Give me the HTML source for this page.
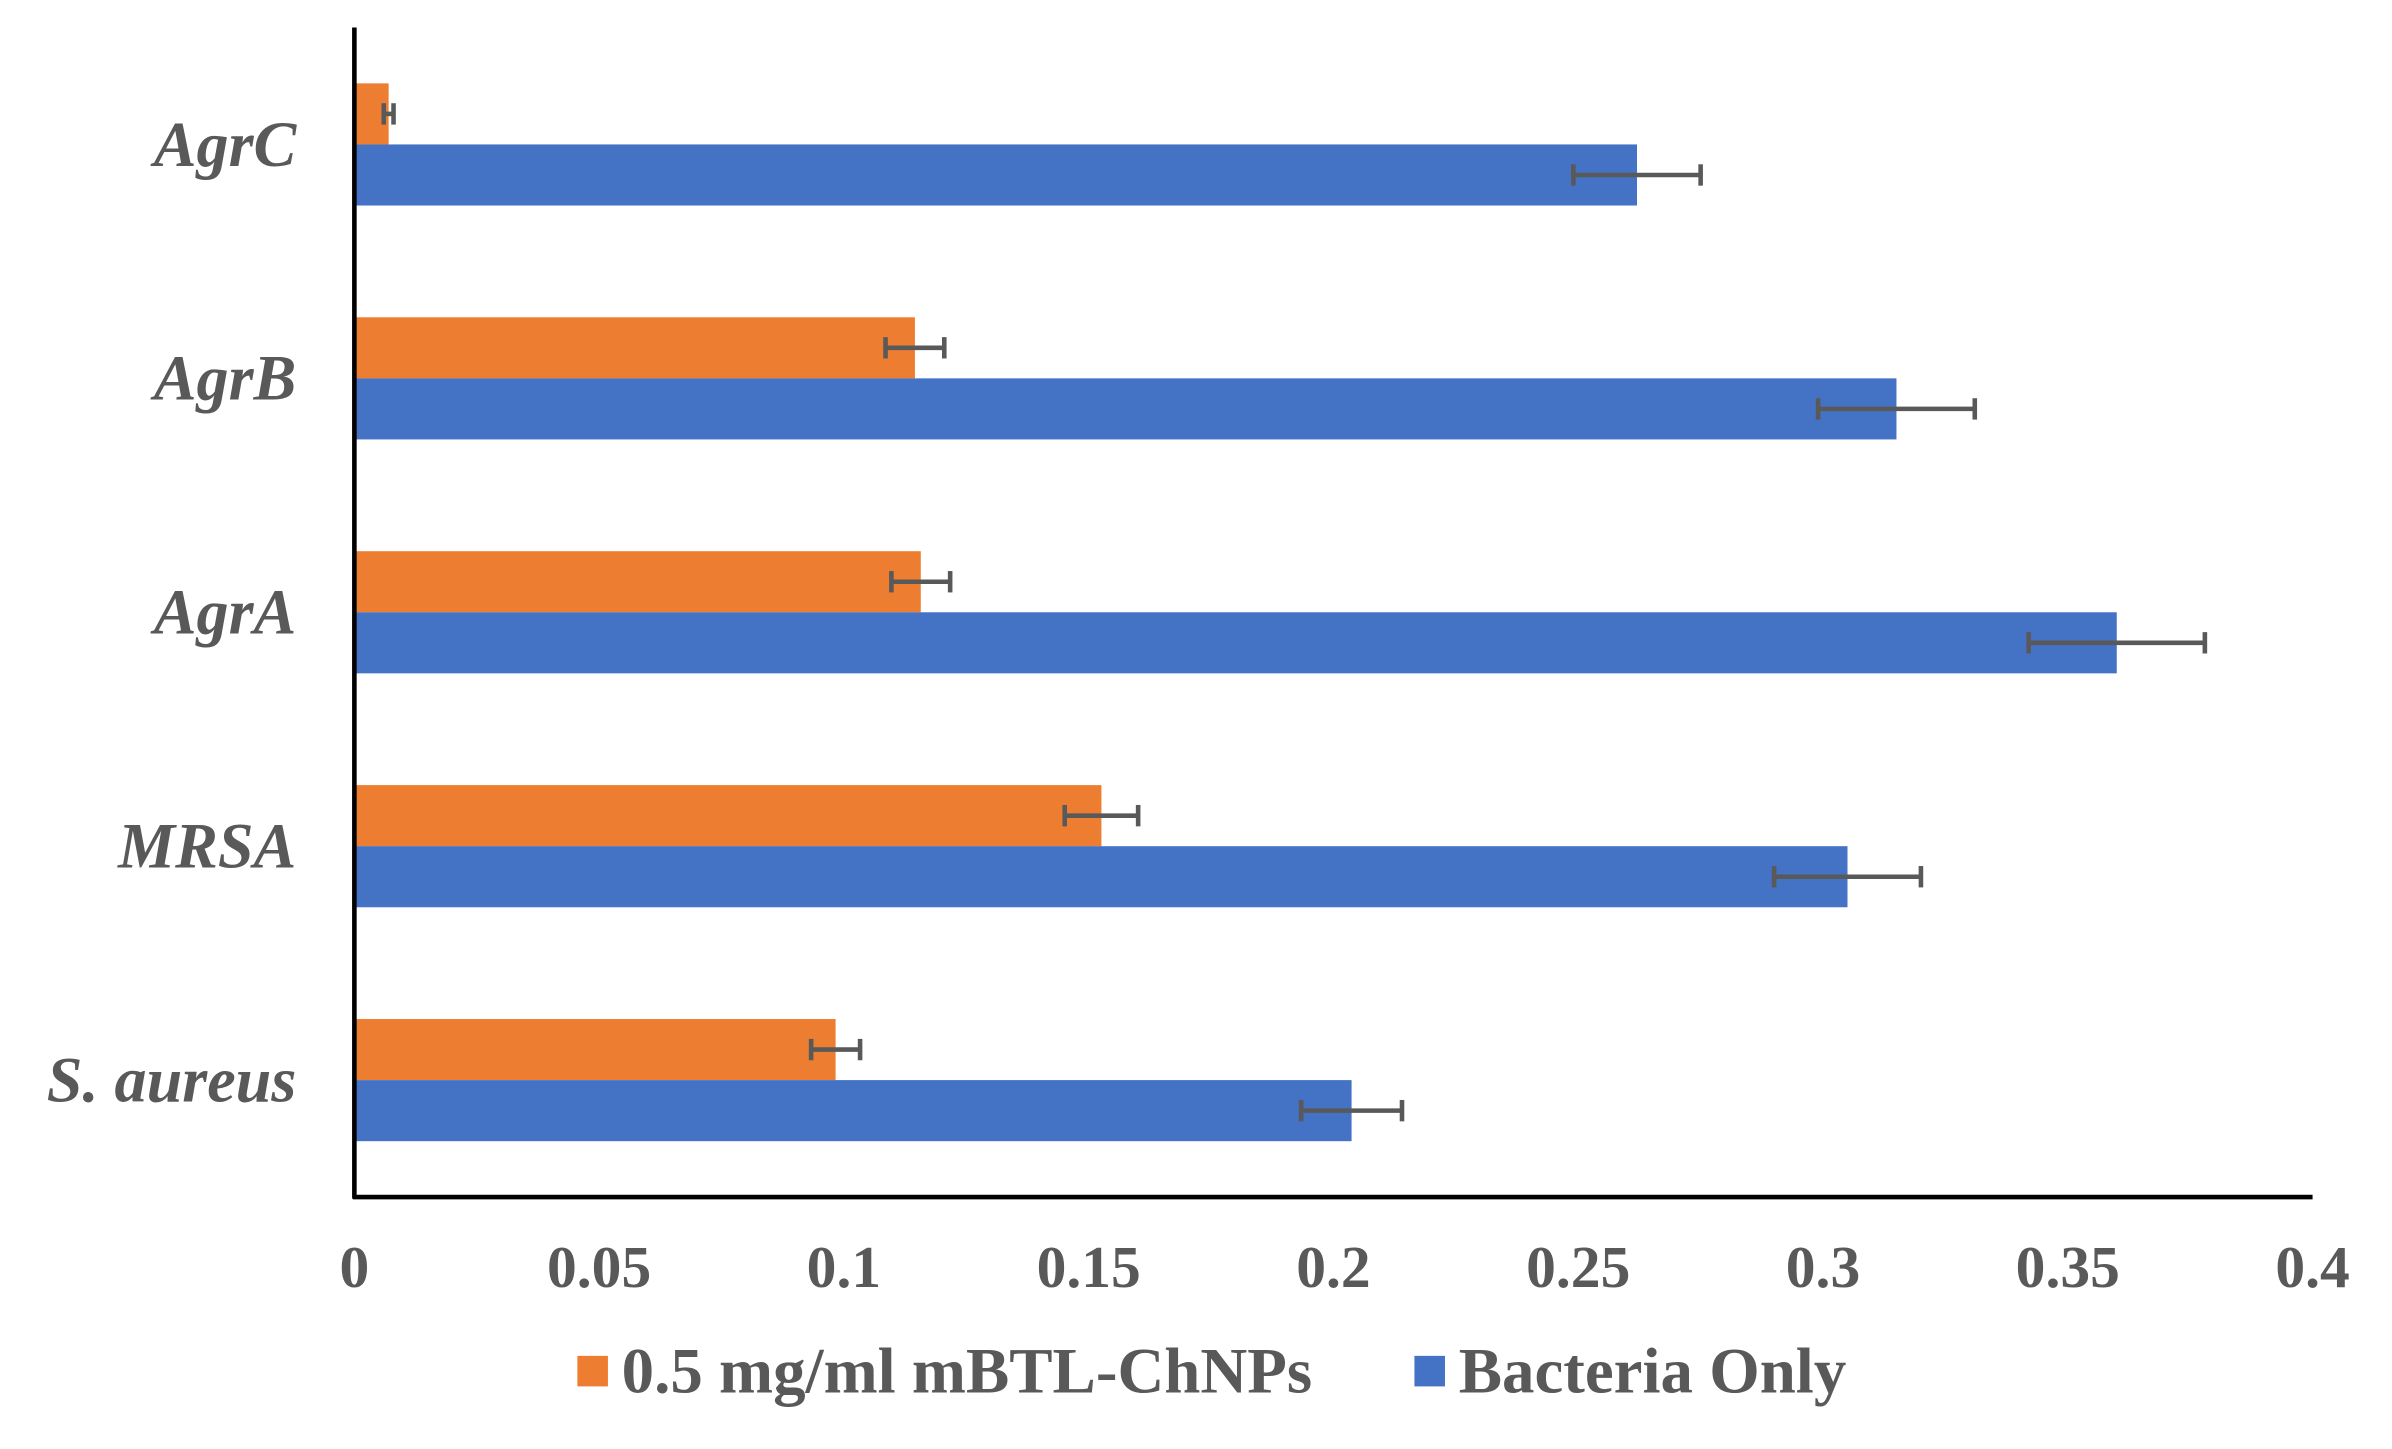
<!DOCTYPE html>
<html><head><meta charset="utf-8"><style>
html,body{margin:0;padding:0;background:#fff;}
svg{display:block;}
</style></head><body>
<svg id="chart" width="2392" height="1449" viewBox="0 0 1566 949" preserveAspectRatio="none" xmlns="http://www.w3.org/2000/svg" font-family="'Liberation Serif', serif">
<g id="plot"></g>
</svg>
<script>
const categories = ["S. aureus", "MRSA", "AgrA", "AgrB", "AgrC"];
const treatedValues = [0.0983, 0.1526, 0.1157, 0.1145, 0.007];
const treatedErrors = [0.005, 0.0075, 0.006, 0.006, 0.001];
const controlValues = [0.2037, 0.305, 0.36, 0.315, 0.262];
const controlErrors = [0.0103, 0.015, 0.018, 0.016, 0.013];
const xTicks = ["0", "0.05", "0.1", "0.15", "0.2", "0.25", "0.3", "0.35", "0.4"];
const seriesNames = ["0.5 mg/ml mBTL-ChNPs", "Bacteria Only"];

const NS = "http://www.w3.org/2000/svg";
const g = document.getElementById("plot");
const X0 = 232, X1 = 1514, XMAX = 0.4;
const xs = v => X0 + (v / XMAX) * (X1 - X0);
const Y_TOP = 18, Y_BOT = 784;
const band = (Y_BOT - Y_TOP) / categories.length;
const catCenter = i => Y_BOT - band * (i + 0.5);
const BAR_H = 40;
const GRAY = "#595959";

function mk(tag, attrs, parent) {
  const e = document.createElementNS(NS, tag);
  for (const k in attrs) e.setAttribute(k, attrs[k]);
  (parent || g).appendChild(e);
  return e;
}

function errBar(cx, cy, err) {
  const a = xs(cx - err), b = xs(cx + err);
  const l = mk("line", {x1: a, x2: b, y1: cy, y2: cy, stroke: GRAY, "stroke-width": 3});
  
  
  mk("line", {x1: a, x2: a, y1: cy - 7, y2: cy + 7, stroke: GRAY, "stroke-width": 3});
  mk("line", {x1: b, x2: b, y1: cy - 7, y2: cy + 7, stroke: GRAY, "stroke-width": 3});
}

categories.forEach((c, i) => {
  const cy = catCenter(i);
  const r1 = mk("rect", {x: X0, y: cy - BAR_H, width: xs(treatedValues[i]) - X0, height: BAR_H, fill: "#ED7D31"});
  
  
  const r2 = mk("rect", {x: X0, y: cy, width: xs(controlValues[i]) - X0, height: BAR_H, fill: "#4472C4"});
  
  
  errBar(treatedValues[i], cy - BAR_H / 2, treatedErrors[i]);
  errBar(controlValues[i], cy + BAR_H / 2, controlErrors[i]);
  const t = mk("text", {x: 194, y: cy + 14, "text-anchor": "end", "font-size": 42, "font-weight": "bold", "font-style": "italic", fill: GRAY});
  t.textContent = c;
  
  
});

const ya = mk("line", {x1: X0, x2: X0, y1: Y_TOP, y2: Y_BOT + 1, stroke: "#000", "stroke-width": 3});


const xa = mk("line", {x1: X0 - 1, x2: X1, y1: Y_BOT, y2: Y_BOT, stroke: "#000", "stroke-width": 3});



xTicks.forEach((t, i) => {
  const tx = mk("text", {x: xs(parseFloat(t)), y: 843, "text-anchor": "middle", "font-size": 39, "font-weight": "bold", fill: GRAY});
  tx.textContent = t;
  
  
});

const legX = [378, 926], legC = ["#ED7D31", "#4472C4"];
seriesNames.forEach((n, i) => {
  const sq = mk("rect", {x: legX[i], y: 888, width: 20, height: 20, fill: legC[i]});
  
  
  const lt = mk("text", {x: legX[i] + 29, y: 912, "font-size": 42.5, "font-weight": "bold", fill: GRAY});
  lt.textContent = n;
  
  
});
</script>
</body></html>
